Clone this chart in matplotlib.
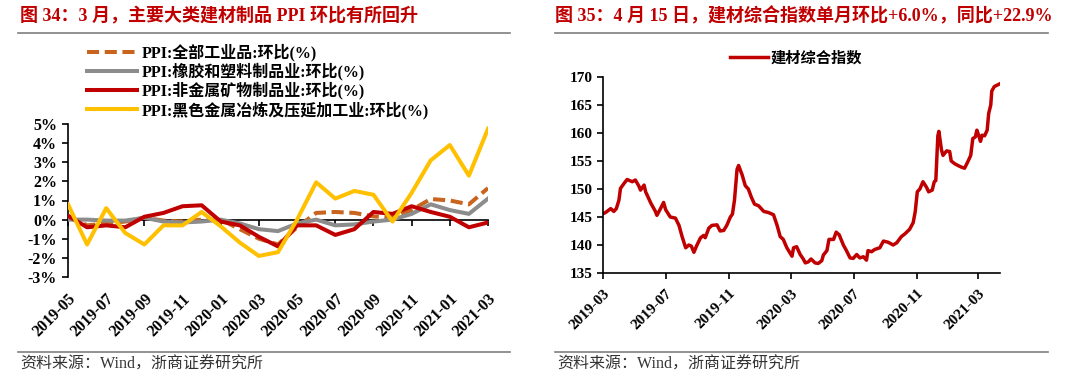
import numpy as np
import pandas as pd
import matplotlib
matplotlib.use('Agg')
import matplotlib.pyplot as plt
from matplotlib.lines import Line2D

# 字体：西文用 Liberation Serif，中文回落到 Noto Sans CJK SC
plt.rcParams['font.family'] = ['Liberation Serif', 'Noto Sans CJK SC']
plt.rcParams['axes.unicode_minus'] = False

# ---------------- 数据 ----------------
# 图34：PPI 环比(%)，2019-05 ~ 2021-03
months = ['2019-05', '2019-06', '2019-07', '2019-08', '2019-09', '2019-10', '2019-11', '2019-12',
          '2020-01', '2020-02', '2020-03', '2020-04', '2020-05', '2020-06', '2020-07', '2020-08',
          '2020-09', '2020-10', '2020-11', '2020-12', '2021-01', '2021-02', '2021-03']
ppi_all = [0.2, -0.3, -0.2, -0.1, 0.1, -0.05, -0.1, 0.0, 0.0, -0.5, -1.0, -1.3,
           -0.4, 0.35, 0.4, 0.35, 0.17, 0.1, 0.5, 1.08, 1.0, 0.8, 1.65]
ppi_rubber = [0.0, 0.0, -0.05, -0.05, 0.1, -0.1, -0.15, -0.1, 0.0, -0.2, -0.5, -0.6,
              -0.2, 0.0, -0.3, -0.25, -0.1, 0.0, 0.3, 0.8, 0.5, 0.3, 1.1]
ppi_nonmetal = [0.2, -0.4, -0.3, -0.4, 0.15, 0.35, 0.7, 0.75, -0.1, -0.3, -0.9, -1.4,
                -0.3, -0.3, -0.8, -0.5, 0.4, 0.3, 0.7, 0.4, 0.15, -0.4, -0.15]
ppi_ferrous = [0.8, -1.3, 0.6, -0.7, -1.3, -0.3, -0.3, 0.4, -0.35, -1.2, -1.9, -1.7,
               0.0, 1.95, 1.1, 1.5, 1.3, -0.1, 1.4, 3.1, 3.9, 2.3, 4.75]
ppi_names = ['PPI:全部工业品:环比(%)', 'PPI:橡胶和塑料制品业:环比(%)',
             'PPI:非金属矿物制品业:环比(%)', 'PPI:黑色金属冶炼及压延加工业:环比(%)']

# 图35：建材综合指数
index_dates = ['2019-03-01', '2019-03-06', '2019-03-16', '2019-03-22', '2019-03-27', '2019-04-01',
               '2019-04-04', '2019-04-11', '2019-04-17', '2019-04-27', '2019-05-03', '2019-05-10',
               '2019-05-13', '2019-05-20', '2019-05-23', '2019-06-02', '2019-06-11', '2019-06-14',
               '2019-06-21', '2019-06-27', '2019-07-01', '2019-07-10', '2019-07-20', '2019-07-27',
               '2019-08-02', '2019-08-09', '2019-08-15', '2019-08-20', '2019-08-25', '2019-08-31',
               '2019-09-07', '2019-09-13', '2019-09-16', '2019-09-23', '2019-09-29', '2019-10-09',
               '2019-10-15', '2019-10-22', '2019-10-28', '2019-11-04', '2019-11-08', '2019-11-12',
               '2019-11-17', '2019-11-20', '2019-11-27', '2019-12-03', '2019-12-09', '2019-12-15',
               '2019-12-21', '2019-12-29', '2020-01-08', '2020-01-17', '2020-01-27', '2020-02-03',
               '2020-02-09', '2020-02-15', '2020-02-22', '2020-03-03', '2020-03-06', '2020-03-12',
               '2020-03-19', '2020-03-25', '2020-03-29', '2020-04-04', '2020-04-09', '2020-04-17',
               '2020-04-23', '2020-04-30', '2020-05-03', '2020-05-10', '2020-05-14', '2020-05-23',
               '2020-05-28', '2020-06-03', '2020-06-11', '2020-06-17', '2020-06-24', '2020-06-30',
               '2020-07-07', '2020-07-13', '2020-07-20', '2020-07-26', '2020-07-29', '2020-08-05',
               '2020-08-11', '2020-08-21', '2020-08-28', '2020-09-06', '2020-09-16', '2020-09-23',
               '2020-10-02', '2020-10-09', '2020-10-18', '2020-10-25', '2020-10-29', '2020-11-02',
               '2020-11-07', '2020-11-13', '2020-11-20', '2020-11-24', '2020-12-01', '2020-12-05',
               '2020-12-08', '2020-12-12', '2020-12-14', '2020-12-19', '2020-12-22', '2020-12-29',
               '2021-01-04', '2021-01-07', '2021-01-14', '2021-01-20', '2021-01-27', '2021-02-02',
               '2021-02-09', '2021-02-14', '2021-02-18', '2021-02-23', '2021-02-26', '2021-03-01',
               '2021-03-05', '2021-03-08', '2021-03-13', '2021-03-18', '2021-03-21', '2021-03-25',
               '2021-03-27', '2021-04-01', '2021-04-12']
index_values = [145.6, 145.8, 146.5, 146.0, 146.5, 148.0, 150.1, 151.0, 151.7, 151.3, 151.6, 150.5,
                149.8, 150.7, 149.5, 147.5, 146.0, 145.3, 146.5, 147.6, 146.3, 145.0, 144.8, 143.5,
                141.5, 139.5, 140.0, 139.8, 138.7, 140.0, 141.3, 141.7, 141.3, 143.0, 143.5, 143.6,
                142.5, 142.6, 143.5, 145.0, 145.5, 148.0, 153.5, 154.2, 152.5, 150.6, 150.0, 148.5,
                147.3, 147.0, 146.0, 145.8, 145.4, 143.5, 141.5, 141.0, 139.5, 138.0, 139.5, 139.7,
                138.3, 137.5, 136.8, 137.0, 137.5, 136.8, 136.7, 137.2, 138.2, 139.0, 141.0, 141.0,
                142.3, 141.8, 140.0, 139.0, 137.7, 137.6, 138.3, 137.7, 137.9, 137.3, 139.0, 138.8,
                139.2, 139.5, 140.7, 140.5, 140.0, 140.4, 141.5, 142.0, 142.8, 144.0, 146.0, 149.5,
                150.0, 151.3, 150.3, 149.5, 149.8, 151.3, 151.5, 159.5, 160.3, 157.0, 156.0, 156.8,
                156.7, 155.0, 154.5, 154.2, 153.9, 153.7, 155.0, 156.0, 159.0, 159.3, 160.5, 159.7,
                158.5, 159.6, 159.5, 160.5, 163.5, 165.0, 167.5, 168.3, 168.8]
index_name = '建材综合指数'
index_ticks = ['2019-03', '2019-07', '2019-11', '2020-03', '2020-07', '2020-11', '2021-03']

RED = '#C00000'
W, H = 1080, 384

fig = plt.figure(figsize=(10.8, 3.84), dpi=100)

def fx(px):
    return px / W

def fy(py):
    return 1 - py / H

# 标题、分隔线、资料来源
fig.text(fx(20), fy(16), '图 34：3 月，主要大类建材制品 PPI 环比有所回升',
         color=RED, fontsize=13, fontweight='bold', va='center')
fig.text(fx(555), fy(16), '图 35：4 月 15 日，建材综合指数单月环比+6.0%，同比+22.9%',
         color=RED, fontsize=13, fontweight='bold', va='center')
for x0, x1 in [(18, 510), (555, 1048)]:
    for yy in (33, 352):
        fig.add_artist(Line2D([fx(x0), fx(x1)], [fy(yy), fy(yy)], color='#7f7f7f', lw=1.2))
    fig.text(fx(x0 + 2), fy(365), '资料来源：Wind，浙商证券研究所',
             fontsize=11.5, color='#333333', va='center')

# ---------------- 图34 ----------------
ax1 = fig.add_axes([fx(68), fy(277), fx(420), 153 / H])
x = np.arange(len(months))
ax1.plot(x, ppi_all, color='#C8641E', lw=2.9, dashes=(3, 1.4), label=ppi_names[0], zorder=2)
ax1.plot(x, ppi_rubber, color='#8C8C8C', lw=2.9, label=ppi_names[1], zorder=3)
ax1.plot(x, ppi_nonmetal, color=RED, lw=2.9, label=ppi_names[2], zorder=4)
ax1.plot(x, ppi_ferrous, color='#FFC000', lw=2.9, label=ppi_names[3], zorder=5)
ax1.set_xlim(0, len(months) - 1)
ax1.set_ylim(-3, 5)
yt = list(range(-3, 6))
ax1.set_yticks(yt, [f'{v}%' for v in yt], fontweight='bold', fontsize=11.5)
ax1.set_xticks(x[::2], months[::2], rotation=45, ha='right', rotation_mode='anchor',
               fontweight='bold', fontsize=11.5)
ax1.tick_params(axis='x', length=0, pad=10)
ax1.tick_params(axis='y', direction='out', length=4, width=1.2, pad=4)
for s in ['top', 'right', 'bottom']:
    ax1.spines[s].set_visible(False)
ax1.spines['left'].set_linewidth(1.2)
# 0 轴
zero_ax = ax1.secondary_xaxis(3 / 8)
zero_ax.set_xticks(x[::2])
zero_ax.tick_params(axis='x', direction='out', length=4, width=1.2, labelbottom=False)
zero_ax.spines['bottom'].set_linewidth(1.2)
ax1.legend(loc='upper left', bbox_to_anchor=(fx(87), fy(44)), bbox_transform=fig.transFigure,
           frameon=False, handlelength=3.1, handletextpad=0.3, labelspacing=0.08,
           borderpad=0, borderaxespad=0, prop={'size': 11.5, 'weight': 'bold'})

# ---------------- 图35 ----------------
ax2 = fig.add_axes([fx(603), fy(273), fx(397), 196 / H])
ax2.plot(pd.to_datetime(index_dates), index_values, color=RED, lw=2.5, label=index_name)
ax2.set_xlim(pd.Timestamp('2019-03-01'), pd.Timestamp('2021-04-12'))
ax2.set_ylim(135, 170)
ax2.set_yticks(range(135, 171, 5), [str(v) for v in range(135, 171, 5)],
               fontweight='bold', fontsize=11)
ax2.set_xticks(pd.to_datetime(index_ticks), index_ticks, rotation=45, ha='right',
               rotation_mode='anchor', fontweight='bold', fontsize=11)
ax2.tick_params(direction='out', length=4, width=1.2)
ax2.tick_params(axis='x', pad=6)
for s in ['top', 'right']:
    ax2.spines[s].set_visible(False)
for s in ['left', 'bottom']:
    ax2.spines[s].set_linewidth(1.2)
ax2.legend(loc='center', bbox_to_anchor=(fx(796), fy(58)), bbox_transform=fig.transFigure,
           frameon=False, handlelength=2.5, handletextpad=0.2, borderpad=0,
           prop={'size': 11, 'weight': 'bold'})

fig.savefig('out.png', dpi=100)
